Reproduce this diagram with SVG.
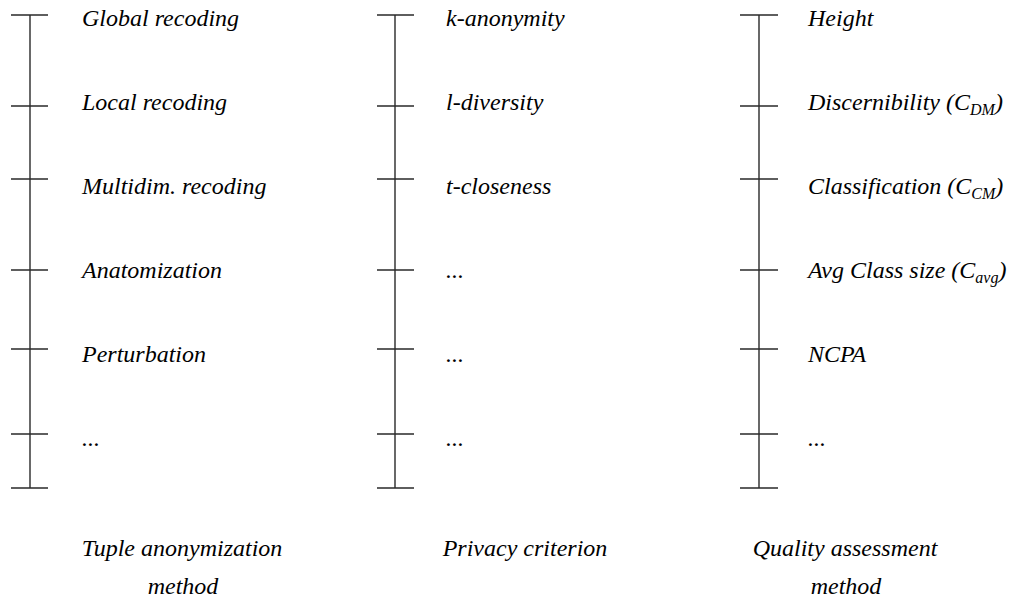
<svg xmlns="http://www.w3.org/2000/svg" width="1012" height="599" viewBox="0 0 1012 599">
<rect width="1012" height="599" fill="#fff"/>
<path d="M30 15V488M11 15H48M11 106H48M11 179H48M11 270H48M11 349H48M11 434H48M11 488H48" stroke="#2a2a2a" stroke-width="1.4" fill="none"/>
<path d="M395 15V488M377 15H414M377 106H414M377 179H414M377 270H414M377 349H414M377 434H414M377 488H414" stroke="#2a2a2a" stroke-width="1.4" fill="none"/>
<path d="M759 15V488M740 15H778M740 106H778M740 179H778M740 270H778M740 349H778M740 434H778M740 488H778" stroke="#2a2a2a" stroke-width="1.4" fill="none"/>
<text x="82" y="26" font-family="Liberation Serif" font-size="24" font-style="italic">Global recoding</text>
<text x="82" y="110" font-family="Liberation Serif" font-size="24" font-style="italic">Local recoding</text>
<text x="82" y="194" font-family="Liberation Serif" font-size="24" font-style="italic">Multidim. recoding</text>
<text x="82" y="278" font-family="Liberation Serif" font-size="24" font-style="italic">Anatomization</text>
<text x="82" y="362" font-family="Liberation Serif" font-size="24" font-style="italic">Perturbation</text>
<text x="82" y="446" font-family="Liberation Serif" font-size="24" font-style="italic">...</text>
<text x="182" y="556" font-family="Liberation Serif" font-size="24" font-style="italic" text-anchor="middle">Tuple anonymization</text>
<text x="183" y="594" font-family="Liberation Serif" font-size="24" font-style="italic" text-anchor="middle">method</text>
<text x="446" y="26" font-family="Liberation Serif" font-size="24" font-style="italic">k-anonymity</text>
<text x="446" y="110" font-family="Liberation Serif" font-size="24" font-style="italic">l-diversity</text>
<text x="446" y="194" font-family="Liberation Serif" font-size="24" font-style="italic">t-closeness</text>
<text x="446" y="278" font-family="Liberation Serif" font-size="24" font-style="italic">...</text>
<text x="446" y="362" font-family="Liberation Serif" font-size="24" font-style="italic">...</text>
<text x="446" y="446" font-family="Liberation Serif" font-size="24" font-style="italic">...</text>
<text x="525" y="556" font-family="Liberation Serif" font-size="24" font-style="italic" text-anchor="middle">Privacy criterion</text>
<text x="808" y="26" font-family="Liberation Serif" font-size="24" font-style="italic">Height</text>
<text x="808" y="110" font-family="Liberation Serif" font-size="24" font-style="italic">Discernibility (C<tspan font-size="16" dy="5">DM</tspan><tspan dy="-5">)</tspan></text>
<text x="808" y="194" font-family="Liberation Serif" font-size="24" font-style="italic">Classification (C<tspan font-size="16" dy="5">CM</tspan><tspan dy="-5">)</tspan></text>
<text x="808" y="278" font-family="Liberation Serif" font-size="24" font-style="italic">Avg Class size (C<tspan font-size="16" dy="5">avg</tspan><tspan dy="-5">)</tspan></text>
<text x="808" y="362" font-family="Liberation Serif" font-size="24" font-style="italic">NCPA</text>
<text x="808" y="446" font-family="Liberation Serif" font-size="24" font-style="italic">...</text>
<text x="845" y="556" font-family="Liberation Serif" font-size="24" font-style="italic" text-anchor="middle">Quality assessment</text>
<text x="846" y="594" font-family="Liberation Serif" font-size="24" font-style="italic" text-anchor="middle">method</text>
</svg>
